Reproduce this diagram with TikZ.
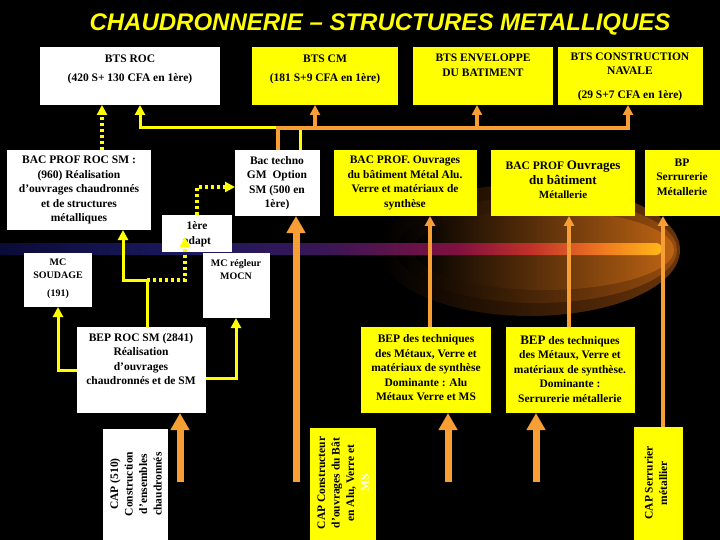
\documentclass[tikz,border=0pt]{standalone}
\usepackage{fontspec}
\setmainfont{Liberation Serif}
\newfontfamily\titlefont{Liberation Sans}
\usetikzlibrary{arrows.meta}
\definecolor{yl}{RGB}{255,255,0}
\definecolor{og}{RGB}{247,158,52}
\definecolor{b0}{RGB}{10,10,55}
\definecolor{b1}{RGB}{28,26,95}
\definecolor{b2}{RGB}{58,22,85}
\definecolor{b3}{RGB}{128,16,64}
\definecolor{b4}{RGB}{192,48,40}
\definecolor{b5}{RGB}{240,120,32}
\definecolor{b6}{RGB}{255,184,24}
\definecolor{g1}{RGB}{105,52,10}
\definecolor{g2}{RGB}{150,76,14}
\definecolor{g3}{RGB}{190,100,20}
\pgfdeclarehorizontalshading{bandshade}{100bp}{color(0bp)=(b0); color(25bp)=(b0); color(40bp)=(b1); color(50bp)=(b2); color(59.8bp)=(b3); color(65.2bp)=(b4); color(70.5bp)=(b5); color(75bp)=(b6); color(100bp)=(b6)}
\begin{document}
\begin{tikzpicture}[x=1pt,y=-1pt,
  wbox/.style={fill=white, inner sep=0pt, outer sep=0pt, anchor=north west},
  ybox/.style={fill=yl, inner sep=0pt, outer sep=0pt, anchor=north west},
  txt/.style={font=\bfseries\fontsize{11.5}{14.5}\selectfont, align=center, inner sep=0pt, text=black},
  stxt/.style={font=\bfseries\fontsize{10}{12.5}\selectfont, align=center, inner sep=0pt, text=black},
  ylw/.style={draw=yl, line width=3pt},
  ydot/.style={draw=yl, line width=3.5pt, dash pattern=on 3pt off 3pt},
  org/.style={draw=og, line width=3.5pt},
  yhead/.style={-{Triangle[width=10pt,length=10pt]}},
  ohead/.style={-{Triangle[width=10pt,length=10pt]}},
  bigarrow/.style={draw=og, line width=7pt, -{Triangle[width=18pt,length=17pt]}}]
\useasboundingbox (0,0) rectangle (720,540);
\fill[black] (0,0) rectangle (720,540);

% glow and band
\shade[left color=black, right color=g1] (530,250) ellipse [x radius=150pt, y radius=66pt];
\shade[left color=black, right color=g2] (537,250) ellipse [x radius=140pt, y radius=53pt];
\shade[left color=black, right color=g3] (544,250) ellipse [x radius=130pt, y radius=40pt];
\shade[shading=bandshade, rounded corners=6pt] (-10,243) rectangle (662,255);

% title
\node[font=\titlefont\bfseries\itshape\fontsize{24}{28}\selectfont, text=yl, anchor=base, inner sep=0pt] (title) at (380,31) {CHAUDRONNERIE – STRUCTURES METALLIQUES};

% boxes
\node[wbox, minimum width=180pt, minimum height=58pt] (roc) at (40,47) {};
\node[ybox, minimum width=146pt, minimum height=58pt] (cm) at (252,47) {};
\node[ybox, minimum width=140pt, minimum height=58pt] (env) at (413,47) {};
\node[ybox, minimum width=145pt, minimum height=58pt] (nav) at (558,47) {};
\node[wbox, minimum width=144pt, minimum height=80pt] (bacroc) at (7,150) {};
\node[wbox, minimum width=85pt, minimum height=66pt] (techno) at (235,150) {};
\node[ybox, minimum width=143pt, minimum height=66pt] (bacalu) at (334,150) {};
\node[ybox, minimum width=144pt, minimum height=66pt] (bacmet) at (491,150) {};
\node[ybox, minimum width=75pt, minimum height=66pt] (bp) at (645,150) {};
\node[wbox, minimum width=70pt, minimum height=37pt] (adapt) at (162,215) {};
\node[wbox, minimum width=68pt, minimum height=54pt] (mcs) at (24,253) {};
\node[wbox, minimum width=67pt, minimum height=65pt] (mcr) at (203,253) {};
\node[wbox, minimum width=129pt, minimum height=86pt] (bep) at (77,327) {};
\node[ybox, minimum width=130pt, minimum height=86pt] (bepalu) at (361,327) {};
\node[ybox, minimum width=129pt, minimum height=86pt] (bepser) at (506,327) {};
\node[wbox, minimum width=65pt, minimum height=111pt] (cap510) at (103,429) {};
\node[ybox, minimum width=66pt, minimum height=112pt] (capalu) at (310,428) {};
\node[ybox, minimum width=49pt, minimum height=113pt] (capser) at (634,427) {};

% texts
\node[txt] (roc-t) at (130,69.5) {BTS ROC\\[4.5pt](420 S+ 130 CFA en 1ère)};
\node[txt] (cm-t) at (325,69.5) {BTS CM\\[4.5pt](181 S+9 CFA en 1ère)};
\node[txt] (env-t) at (483,65) {BTS ENVELOPPE\\DU BATIMENT};
\node[txt] (nav-t) at (630,77) {BTS CONSTRUCTION\\NAVALE\\[9.5pt](29 S+7 CFA en 1ère)};
\node[txt] (bacroc-t) at (79,190) {BAC PROF ROC SM :\\(960) Réalisation\\d’ouvrages chaudronnés\\et de structures\\métalliques};
\node[txt] (techno-t) at (277,183) {Bac techno\\GM\ \ Option\\SM (500 en\\1ère)};
\node[txt] (bacalu-t) at (405,183) {BAC PROF. Ouvrages\\du bâtiment Métal Alu.\\Verre et matériaux de\\synthèse};
\node[txt] (bacmet-t) at (563,180) {BAC PROF {\fontsize{13}{15.5}\selectfont Ouvrages}\\{\fontsize{13}{15.5}\selectfont du bâtiment}\\{\fontsize{11}{14}\selectfont Métallerie}};
\node[txt] (bp-t) at (682,177) {BP\\Serrurerie\\Métallerie};
\node[txt] (adapt-t) at (197,234) {1ère\\adapt};
\node[stxt] (mcs-t) at (58,279) {MC\\SOUDAGE\\[6pt](191)};
\node[stxt] (mcr-t) at (236,269.5) {MC régleur\\MOCN};
\node[txt] (bep-t) at (141,359) {BEP ROC SM (2841)\\Réalisation\\d’ouvrages\\chaudronnés et de SM};
\node[txt] (bepalu-t) at (426,368) {BEP des techniques\\des Métaux, Verre et\\matériaux de synthèse\\Dominante : Alu\\Métaux Verre et MS};
\node[txt] (bepser-t) at (570,369) {{\fontsize{13}{14.5}\selectfont BEP} des techniques\\des Métaux, Verre et\\matériaux de synthèse.\\Dominante :\\Serrurerie métallerie};
\node[txt, rotate=90] (cap510-t) at (136,484) {CAP (510)\\Construction\\d’ensembles\\chaudronnés};
\node[txt, rotate=90] (capalu-t) at (343,483) {CAP Constructeur\\d'ouvrages du Bât\\en Alu, Verre et\\{\color{white}MS}};
\node[txt, rotate=90] (capser-t) at (656,483) {CAP Serrurier\\métallier};

% helper coordinates
\coordinate (x58) at (58,0);
\coordinate (x102) at (102,0);
\coordinate (x123) at (123,0);
\coordinate (x140) at (140,0);
\coordinate (x147) at (147,0);
\coordinate (x180) at (180,0);
\coordinate (x185) at (185,0);
\coordinate (x197) at (197,0);
\coordinate (x236) at (236,0);
\coordinate (x278) at (278,0);
\coordinate (x296) at (296,0);
\coordinate (x300) at (300,0);
\coordinate (x315) at (315,0);
\coordinate (x430) at (430,0);
\coordinate (x448) at (448,0);
\coordinate (x477) at (477,0);
\coordinate (x536) at (536,0);
\coordinate (x569) at (569,0);
\coordinate (x628) at (628,0);
\coordinate (x663) at (663,0);
\coordinate (y128) at (0,128);
\coordinate (y187) at (0,187);
\coordinate (y280) at (0,280);
\coordinate (y370) at (0,370);
\coordinate (y378) at (0,378);
\coordinate (y482) at (0,482);
\coordinate (tipadapt) at (185,237);

% top connectors
\draw[ydot, yhead] (x102 |- bacroc.north) -- (x102 |- roc.south);
\draw[ylw, yhead] (x300 |- techno.north) -- (x300 |- y128) -- (x140 |- y128) -- (x140 |- roc.south);
\draw[org, ohead] (x278 |- techno.north) -- (x278 |- y128) -- (x628 |- y128) -- (x628 |- nav.south);
\draw[org, ohead] (x315 |- y128) -- (x315 |- cm.south);
\draw[org, ohead] (x477 |- y128) -- (x477 |- env.south);

% middle connectors
\draw[ydot, yhead] (x197 |- adapt.north) -- (x197 |- y187) -- (techno.west |- y187);
\draw[ylw, yhead] (x147 |- bep.north) -- (x147 |- y280) -- (x123 |- y280) -- (x123 |- bacroc.south);
\draw[ydot, yhead] (x147 |- y280) -- (x185 |- y280) -- (tipadapt);
\draw[ylw, yhead] (bep.west |- y370) -- (x58 |- y370) -- (x58 |- mcs.south);
\draw[ylw, yhead] (bep.east |- y378) -- (x236 |- y378) -- (x236 |- mcr.south);

% thin orange
\draw[org, ohead] (x430 |- bepalu.north) -- (x430 |- bacalu.south);
\draw[org, ohead] (x569 |- bepser.north) -- (x569 |- bacmet.south);
\draw[org, ohead] (x663 |- capser.north) -- (x663 |- bp.south);

% big orange arrows
\draw[bigarrow] (x180 |- y482) -- (x180 |- bep.south);
\draw[bigarrow] (x296 |- y482) -- (x296 |- techno.south);
\draw[bigarrow] (x448 |- y482) -- (x448 |- bepalu.south);
\draw[bigarrow] (x536 |- y482) -- (x536 |- bepser.south);
\end{tikzpicture}
\end{document}
